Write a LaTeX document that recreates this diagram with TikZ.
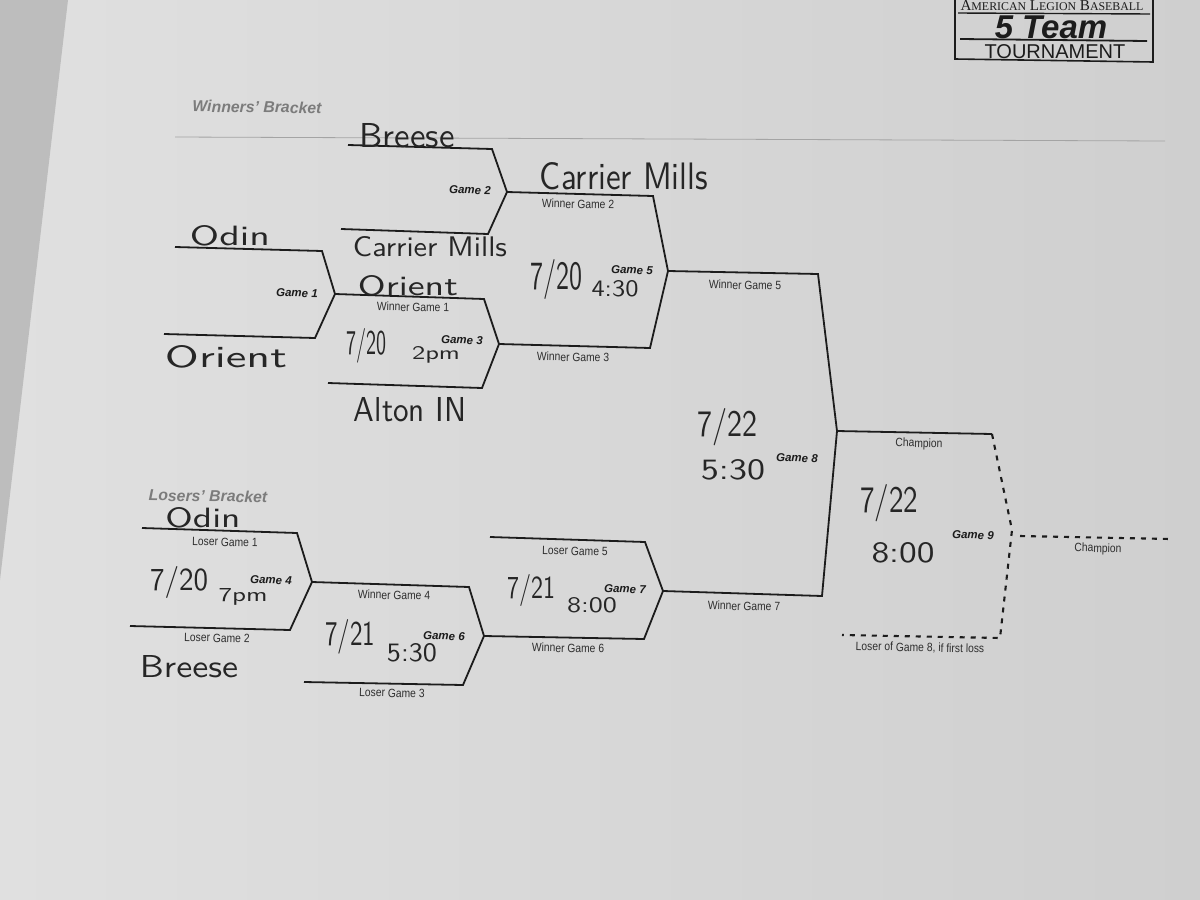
\documentclass[tikz,border=0pt]{standalone}
\usepackage{fontspec}
\usepackage{graphicx}
\setmainfont{Liberation Sans}
\newfontfamily\narrowfont{Liberation Sans}[FakeStretch=0.86]
\newfontfamily\logoserif{Liberation Serif}
\newcommand{\hw}[3]{\resizebox{#1pt}{#2pt}{\sffamily #3}}
\definecolor{paper}{HTML}{DADADA}
\definecolor{paperlight}{HTML}{E0E0E0}
\definecolor{paperdark}{HTML}{CFCFCF}
\definecolor{counter}{HTML}{BDBDBD}
\definecolor{ink}{HTML}{1C1C1C}
\definecolor{printink}{HTML}{2E2E2E}
\definecolor{handink}{HTML}{262626}
\definecolor{headgray}{HTML}{7C7C7C}
\definecolor{rulegray}{HTML}{A4A4A4}
\tikzset{
  bline/.style={draw=ink, line width=1.8pt, line join=miter},
  dline/.style={draw=ink, line width=2.1pt, dash pattern=on 5pt off 6pt},
  lbl/.style={font=\narrowfont\fontsize{12}{12}\selectfont, text=printink, inner sep=0pt, rotate=-1.2},
  gamelbl/.style={font=\bfseries\itshape\fontsize{11.5}{12}\selectfont, text=ink, inner sep=0pt, rotate=-1.2},
  headlbl/.style={font=\bfseries\itshape\fontsize{15.8}{16}\selectfont, text=headgray, inner sep=0pt, rotate=-0.8},
  hand/.style={text=handink, inner sep=0pt},
}
\begin{document}
\begin{tikzpicture}[x=1pt,y=-1pt]
\useasboundingbox (0,0) rectangle (1200,900);
\clip (0,0) rectangle (1200,900);
% background: paper and counter
\shade[left color=paperlight, right color=paperdark] (0,0) rectangle (1200,900);
\fill[counter] (0,0) -- (68,0) -- (0,580) -- cycle;
% thin rule under heading
\coordinate (ruleL) at (175,137);
\coordinate (ruleR) at (1165,141);
\draw[rulegray, line width=0.8pt] (ruleL) -- (ruleR);
% logo box
\coordinate (lbTL) at (955,0);
\coordinate (lbBL) at (955,59);
\coordinate (lbBR) at (1153,62);
\coordinate (lbTR) at (1153,0);
\draw[ink, line width=1.6pt] (lbTL) -- (lbBL) -- (lbBR) -- (lbTR);
\coordinate (l1L) at (958,13); \coordinate (l1R) at (1150,14);
\draw[ink, line width=1.4pt] (l1L) -- (l1R);
\coordinate (l2L) at (960,39); \coordinate (l2R) at (1147,41);
\draw[ink, line width=1.8pt] (l2L) -- (l2R);
\node[inner sep=0pt, anchor=base, text=ink] (legion) at (1052,10)
  {\resizebox{183pt}{!}{\logoserif\fontsize{14}{14}\selectfont A{\fontsize{11}{11}\selectfont MERICAN} L{\fontsize{11}{11}\selectfont EGION} B{\fontsize{11}{11}\selectfont ASEBALL}}};
\node[inner sep=0pt, text=ink, font=\bfseries\itshape\fontsize{33}{33}\selectfont] (fiveteam) at (1051,27) {5 Team};
\node[inner sep=0pt, text=ink, font=\fontsize{20}{20}\selectfont] (tourn) at (1055,52) {TOURNAMENT};
% headings
\node[headlbl] (wbh) at (257,107) {Winners' Bracket};
\node[headlbl] (lbh) at (208,496) {Losers' Bracket};

% ---------- Winners' bracket ----------
% Game 1
\coordinate (g1a) at (175,247); \coordinate (g1b) at (322,251);
\coordinate (g1) at (335,294);
\coordinate (g1c) at (315,338); \coordinate (g1d) at (164,334);
\draw[bline] (g1a) -- (g1b) -- (g1) -- (g1c) -- (g1d);
% Game 2
\coordinate (g2a) at (348,145); \coordinate (g2b) at (492,149);
\coordinate (g2) at (507,192);
\coordinate (g2c) at (488,234); \coordinate (g2d) at (341,229);
\draw[bline] (g2a) -- (g2b) -- (g2) -- (g2c) -- (g2d);
% Game 3
\coordinate (g3b) at (484,299);
\coordinate (g3) at (499,344);
\coordinate (g3c) at (482,388); \coordinate (g3d) at (328,383);
\draw[bline] (g1) -- (g3b) -- (g3) -- (g3c) -- (g3d);
% Game 5
\coordinate (g5b) at (653,196);
\coordinate (g5) at (668,271);
\coordinate (g5c) at (650,348);
\draw[bline] (g2) -- (g5b) -- (g5) -- (g5c) -- (g3);
% Game 8
\coordinate (g8b) at (818,274);
\coordinate (g8) at (837,431);
\coordinate (g8c) at (822,596);
% ---------- Losers' bracket ----------
% Game 4
\coordinate (g4a) at (142,528); \coordinate (g4b) at (297,533);
\coordinate (g4) at (312,582);
\coordinate (g4c) at (290,630); \coordinate (g4d) at (130,626);
\draw[bline] (g4a) -- (g4b) -- (g4) -- (g4c) -- (g4d);
% Game 6
\coordinate (g6b) at (469,587);
\coordinate (g6) at (484,636);
\coordinate (g6c) at (463,685); \coordinate (g6d) at (304,682);
\draw[bline] (g4) -- (g6b) -- (g6) -- (g6c) -- (g6d);
% Game 7
\coordinate (g7a) at (490,537); \coordinate (g7b) at (645,542);
\coordinate (g7) at (663,591);
\coordinate (g7c) at (644,639);
\draw[bline] (g7a) -- (g7b) -- (g7) -- (g7c) -- (g6);
% Game 8 bracket
\draw[bline] (g5) -- (g8b) -- (g8) -- (g8c) -- (g7);
% Champion line and Game 9
\coordinate (g9a) at (992,434);
\draw[bline] (g8) -- (g9a);
\coordinate (g9) at (1012,530);
\coordinate (g9c) at (1000,638);
\coordinate (g9d) at (842,635);
\draw[dline] (g9a) -- (g9) -- (g9c) -- (g9d);
\coordinate (chL) at (1020,536);
\coordinate (chR) at (1170,539);
\draw[dline] (chL) -- (chR);

% ---------- printed labels ----------
\node[gamelbl] (t1) at (297,293) {Game 1};
\node[gamelbl] (t2) at (470,190) {Game 2};
\node[gamelbl] (t3) at (462,340) {Game 3};
\node[gamelbl] (t5) at (632,270) {Game 5};
\node[gamelbl] (t4) at (271,580) {Game 4};
\node[gamelbl] (t6) at (444,636) {Game 6};
\node[gamelbl] (t7) at (625,589) {Game 7};
\node[gamelbl] (t8) at (797,458) {Game 8};
\node[gamelbl] (t9) at (973,535) {Game 9};

\node[lbl] (wg1) at (413,307) {Winner Game 1};
\node[lbl] (wg2) at (578,204) {Winner Game 2};
\node[lbl] (wg3) at (573,357) {Winner Game 3};
\node[lbl] (wg5) at (745,285) {Winner Game 5};
\node[lbl] (lg1) at (225,542) {Loser Game 1};
\node[lbl] (lg2) at (217,638) {Loser Game 2};
\node[lbl] (wg4) at (394,595) {Winner Game 4};
\node[lbl] (lg3) at (392,693) {Loser Game 3};
\node[lbl] (lg5) at (575,551) {Loser Game 5};
\node[lbl] (wg6) at (568,648) {Winner Game 6};
\node[lbl] (wg7) at (744,606) {Winner Game 7};
\node[lbl] (ch1) at (919,444) {Champion};
\node[lbl] (ch2) at (1098,549) {Champion};
\node[lbl] (lg8) at (920,648) {Loser of Game 8, if first loss};

% ---------- handwriting ----------
\node[hand] (hBreese) at (407,136) {\hw{95}{24}{Breese}};
\node[hand] (hCM1) at (624,176) {\hw{168}{27}{Carrier Mills}};
\node[hand] (hCM2) at (430,247) {\hw{154}{20}{Carrier Mills}};
\node[hand] (hOdin1) at (230,236) {\hw{80}{20}{Odin}};
\node[hand] (hOrient1) at (408,286) {\hw{100}{20}{Orient}};
\node[hand] (hOrient2) at (226,357) {\hw{122}{22}{Orient}};
\node[hand] (hG3d) at (366,346) {\hw{40}{26}{7/20}};
\node[hand] (hG3t) at (436,355) {\hw{48}{13}{2pm}};
\node[hand] (hAlton) at (410,410) {\hw{112}{24}{Alton IN}};
\node[hand] (hG5d) at (556,279) {\hw{52}{30}{7/20}};
\node[hand] (hG5t) at (615,289) {\hw{47}{16}{4:30}};
\node[hand] (hG8d) at (727,427) {\hw{60}{28}{7/22}};
\node[hand] (hG8t) at (733,470) {\hw{64}{20}{5:30}};
\node[hand] (hOdin2) at (203,518) {\hw{75}{20}{Odin}};
\node[hand] (hG4d) at (179,582) {\hw{58}{24}{7/20}};
\node[hand] (hG4t) at (243,597) {\hw{49}{13}{7pm}};
\node[hand] (hBreese2) at (189,667) {\hw{98}{22}{Breese}};
\node[hand] (hG6d) at (350,637) {\hw{50}{26}{7/21}};
\node[hand] (hG6t) at (412,653) {\hw{50}{18}{5:30}};
\node[hand] (hG7d) at (531,590) {\hw{48}{24}{7/21}};
\node[hand] (hG7t) at (592,605) {\hw{50}{15}{8:00}};
\node[hand] (hG9d) at (889,503) {\hw{58}{28}{7/22}};
\node[hand] (hG9t) at (903,553) {\hw{63}{20}{8:00}};
\end{tikzpicture}
\end{document}
